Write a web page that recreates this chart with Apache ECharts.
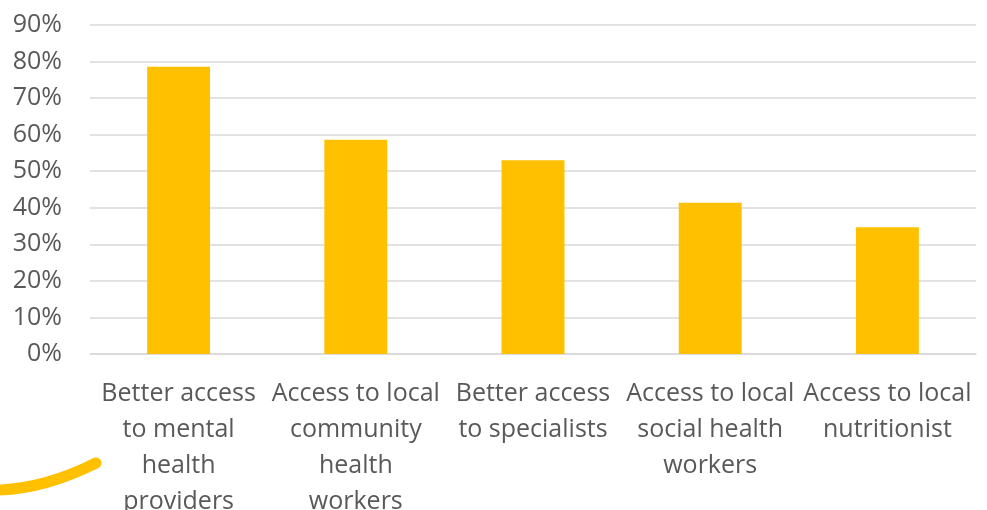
<!DOCTYPE html>
<html>
<head>
<meta charset="utf-8">
<script src="https://cdn.jsdelivr.net/npm/echarts@6/dist/echarts.min.js"></script>
<style>
  html, body { margin: 0; padding: 0; background: #fff; }
  #chart { width: 987px; height: 510px; }
</style>
</head>
<body>
<div id="chart"></div>
<script>
// categories (line breaks as in the original labels)
const categories = [
  'Better access\nto mental\nhealth\nproviders',
  'Access to local\ncommunity\nhealth\nworkers',
  'Better access\nto specialists',
  'Access to local\nsocial health\nworkers',
  'Access to local\nnutritionist'
];
// share of respondents, %
const values = [78.6, 58.6, 53.0, 41.4, 34.7];

const BAR_COLOR = '#FFC000';
const TEXT_COLOR = '#595959';
const FONT = 'Open Sans';

const chart = echarts.init(document.getElementById('chart'), null, { renderer: 'canvas' });

chart.setOption({
  animation: false,
  grid: { left: 90, right: 11, top: 25, bottom: 156, containLabel: false, outerBoundsMode: 'none' },
  xAxis: {
    type: 'category',
    data: categories,
    axisLine: { lineStyle: { color: '#D9D9D9', width: 1.5 } },
    axisTick: { show: false },
    axisLabel: {
      interval: 0,
      color: TEXT_COLOR,
      fontFamily: FONT,
      fontSize: 25,
      lineHeight: 36,
      margin: 22
    }
  },
  yAxis: {
    type: 'value',
    min: 0,
    max: 90,
    interval: 10,
    axisLine: { show: false },
    axisTick: { show: false },
    splitLine: { lineStyle: { color: '#D9D9D9', width: 1.5 } },
    axisLabel: {
      formatter: '{value}%',
      color: TEXT_COLOR,
      fontFamily: FONT,
      fontSize: 25,
      margin: 28
    }
  },
  series: [{
    type: 'bar',
    data: values,
    barWidth: '35.5%',
    itemStyle: { color: BAR_COLOR }
  }],
  graphic: [{
    type: 'bezierCurve',
    shape: { x1: -10, y1: 490, x2: 96, y2: 463, cpx1: 40, cpy1: 491 },
    style: { stroke: BAR_COLOR, lineWidth: 11, lineCap: 'round', fill: null }
  }]
});
</script>
</body>
</html>
